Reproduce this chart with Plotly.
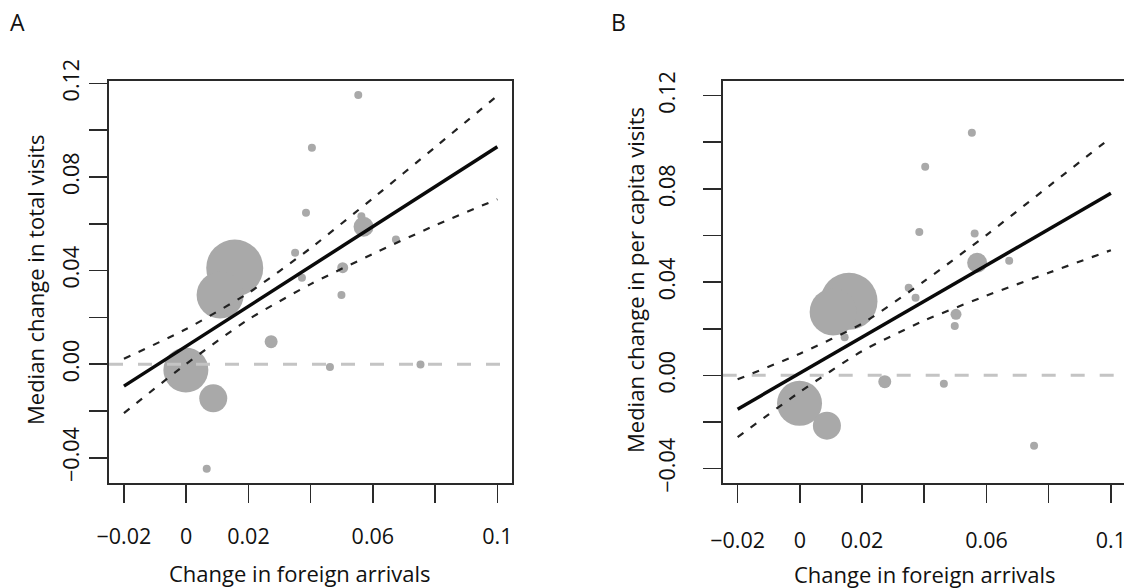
import plotly.graph_objects as go

W, H = 1124, 588

# ---------------- data ----------------
# Panel A: total visits
a_x = [0.0156, 0.0109, -0.0001, 0.0087, 0.0273, 0.0462, 0.0753, 0.0350, 0.0372,
       0.0503, 0.0499, 0.0385, 0.0563, 0.0570, 0.0674, 0.0404, 0.0553, 0.0066]
a_y = [0.0411, 0.0295, -0.0025, -0.0146, 0.0096, -0.0012, -0.0002, 0.0476, 0.0369,
       0.0412, 0.0295, 0.0647, 0.0632, 0.0587, 0.0533, 0.0925, 0.1150, -0.0447]
# Panel B: per capita visits
b_x = [0.0158, 0.0107, -0.0001, 0.0087, 0.0273, 0.0463, 0.0753, 0.0350, 0.0372,
       0.0502, 0.0498, 0.0384, 0.0562, 0.0570, 0.0673, 0.0403, 0.0553, 0.0144]
b_y = [0.0318, 0.0272, -0.0120, -0.0216, -0.0027, -0.0036, -0.0302, 0.0376, 0.0333,
       0.0262, 0.0212, 0.0615, 0.0609, 0.0483, 0.0492, 0.0895, 0.1041, 0.0163]
# bubble weights (marker diameters in px)
bubble_size = [57, 47, 45, 28, 13, 8, 8, 8, 8, 11, 8, 8, 8, 20, 8, 8, 8, 8]

# fitted lines (endpoints) and confidence bands
fit_x = [-0.02, 0.1]
a_fit = [-0.0094, 0.0929]
b_fit = [-0.0145, 0.0781]
ci_x = [-0.02, 0.0, 0.02, 0.04, 0.06, 0.08, 0.1]
a_upper = [0.0023, 0.0150, 0.0304, 0.0496, 0.0709, 0.0927, 0.1147]
a_lower = [-0.0209, 0.0001, 0.0191, 0.0342, 0.0471, 0.0593, 0.0705]
b_upper = [-0.0017, 0.0093, 0.0222, 0.0404, 0.0602, 0.0811, 0.1020]
b_lower = [-0.0265, -0.0071, 0.0104, 0.0235, 0.0342, 0.0440, 0.0537]

x_ticks = [-0.02, 0.0, 0.02, 0.04, 0.06, 0.08, 0.1]
x_ticktext = ["\u22120.02", "0", "0.02", "", "0.06", "", "0.1"]
y_ticks = [-0.04, -0.02, 0.0, 0.02, 0.04, 0.06, 0.08, 0.10, 0.12]
y_ticktext = ["\u22120.04", "", "0.00", "", "0.04", "", "0.08", "", "0.12"]

a_xrange = [-0.0248, 0.1047]
a_yrange = [-0.0508, 0.1210]
b_xrange = [-0.0248, 0.10421]
b_yrange = [-0.0463, 0.1264]

FONT = "Open Sans"
TXT = "#111111"
AX = "#2a2a2a"
PT = "#a9a9a9"

fig = go.Figure()

def add_panel(xs, ys, fit, up, lo, xr, xa, ya):
    fig.add_trace(go.Scatter(x=xs, y=ys, mode="markers", xaxis=xa, yaxis=ya,
                             marker=dict(size=bubble_size, color=PT, line=dict(width=0),
                                         opacity=1), showlegend=False, hoverinfo="skip"))
    fig.add_trace(go.Scatter(x=xr, y=[0, 0], mode="lines", xaxis=xa, yaxis=ya,
                             line=dict(color="#c4c4c4", width=3, dash="14px,15px"),
                             showlegend=False, hoverinfo="skip"))
    for band in (up, lo):
        fig.add_trace(go.Scatter(x=ci_x, y=band, mode="lines", xaxis=xa, yaxis=ya,
                                 line=dict(color="#222222", width=2.2, dash="7px,9px", shape="spline",
                                           smoothing=0.6),
                                 showlegend=False, hoverinfo="skip"))
    fig.add_trace(go.Scatter(x=fit_x, y=fit, mode="lines", xaxis=xa, yaxis=ya,
                             line=dict(color="#0a0a0a", width=3.5),
                             showlegend=False, hoverinfo="skip"))

add_panel(a_x, a_y, a_fit, a_upper, a_lower, a_xrange, "x", "y")
add_panel(b_x, b_y, b_fit, b_upper, b_lower, b_xrange, "x2", "y2")

tickfont = dict(family=FONT, size=21.5, color=TXT)
common_x = dict(tickmode="array", tickvals=x_ticks, ticktext=x_ticktext, ticks="outside",
                ticklen=18, tickwidth=1.6, tickcolor=AX, showline=True, linecolor=AX,
                linewidth=1.6, showgrid=False, zeroline=False, tickfont=tickfont,
                automargin=False, ticklabeloverflow="allow")
common_y = dict(tickmode="array", tickvals=y_ticks, ticktext=y_ticktext, ticks="outside",
                ticklen=18, tickwidth=1.6, tickcolor=AX, showline=True, linecolor=AX,
                linewidth=1.6, showgrid=False, zeroline=False, tickfont=tickfont,
                tickangle=-90, automargin=False, ticklabeloverflow="allow")

fig.update_layout(
    width=W, height=H, autosize=False,
    margin=dict(l=0, r=0, t=0, b=0, autoexpand=False),
    paper_bgcolor="white", plot_bgcolor="white",
    xaxis=dict(domain=[109 / W, 512 / W], range=a_xrange, mirror=True, anchor="y",
               ticklabelstandoff=16, **common_x),
    yaxis=dict(domain=[1 - 483 / H, 1 - 81 / H], range=a_yrange, mirror=True, anchor="x",
               ticklabelstandoff=2, **common_y),
    xaxis2=dict(domain=[722.7 / W, 1.0], range=b_xrange, mirror=True, anchor="y2",
                ticklabelstandoff=19, **common_x),
    yaxis2=dict(domain=[1 - 483.3 / H, 1 - 80.7 / H], range=b_yrange, mirror=False, anchor="x2",
                ticklabelstandoff=20, **common_y),
)

def ann(text, x, y, size=22, angle=0):
    fig.add_annotation(text=text, x=x / W, y=1 - y / H, xref="paper", yref="paper",
                       showarrow=False, xanchor="center", yanchor="middle", textangle=angle,
                       font=dict(family=FONT, size=size, color=TXT))

ann("A", 17, 22, size=23)
ann("B", 618, 22, size=23)
ann("Median change in total visits", 35, 280, angle=-90)
ann("Median change in per capita visits", 635, 280, angle=-90)
ann("Change in foreign arrivals", 300, 573)
ann("Change in foreign arrivals", 925, 574)

fig.write_html(
    "out.html",
    config={"displayModeBar": False, "staticPlot": True},
    post_script="document.body.style.margin='0';document.body.style.overflow='hidden';"
                "document.documentElement.style.overflow='hidden';",
)
